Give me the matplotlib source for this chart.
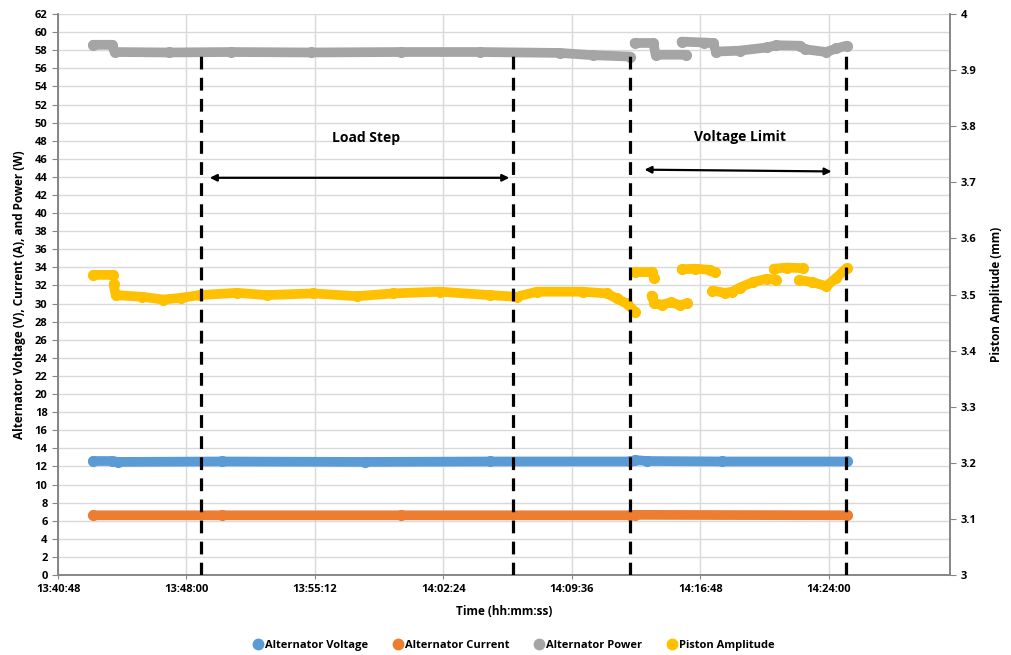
import numpy as np
import matplotlib
matplotlib.use("Agg")
import matplotlib.pyplot as plt
from matplotlib.lines import Line2D
from matplotlib.ticker import FuncFormatter, MultipleLocator

plt.rcParams['font.family'] = ['Open Sans', 'DejaVu Sans']
plt.rcParams['font.weight'] = 'bold'
plt.rcParams['axes.labelweight'] = 'bold'

# values; None breaks a series (gap between marker runs)
voltage_time = ["13:42:46", "13:43:50", "13:44:10", "13:50:00", "13:58:00", "14:05:00",
                "14:12:50", "14:13:10", "14:13:50", "14:18:00", "14:25:00"]
voltage_v = [12.6, 12.6, 12.5, 12.55, 12.5, 12.55, 12.55, 12.7, 12.6, 12.55, 12.55]

current_time = ["13:42:46", "13:50:00", "14:00:00", "14:12:50", "14:13:10", "14:25:00"]
current_a = [6.6, 6.6, 6.6, 6.6, 6.65, 6.6]

power_time = ["13:42:46", "13:43:50", "13:43:58", "13:47:00", "13:50:30", "13:55:00",
              "14:00:00", "14:04:26", "14:08:55", "14:10:46", "14:12:50", None,
              "14:13:07", "14:14:10", "14:14:18", "14:16:00", None,
              "14:15:45", "14:17:00", "14:17:30", "14:17:42", "14:19:00", "14:20:31",
              "14:21:04", "14:22:22", "14:22:40", "14:23:52", "14:24:26", "14:25:00"]
power_w = [58.6, 58.6, 57.8, 57.75, 57.8, 57.75,
           57.8, 57.8, 57.7, 57.45, 57.3, None,
           58.8, 58.8, 57.5, 57.5, None,
           58.95, 58.85, 58.8, 57.85, 57.95, 58.3,
           58.55, 58.5, 58.1, 57.8, 58.2, 58.5]

piston_time = ["13:42:46", "13:43:52", None,
               "13:43:55", "13:44:02", "13:45:30", "13:46:41", "13:47:40", "13:48:45",
               "13:50:50", "13:52:30", "13:55:05", "13:57:33", "13:59:34", "14:02:12",
               "14:05:00", "14:06:30", "14:07:38", "14:10:12", "14:11:33", "14:12:07",
               "14:12:40", "14:13:10", None,
               "14:13:10", "14:14:06", "14:14:12", None,
               "14:14:04", "14:14:14", "14:14:40", "14:15:10", "14:15:40", "14:16:02", None,
               "14:15:45", "14:16:30", "14:17:20", "14:17:36", None,
               "14:17:29", "14:18:10", "14:18:36", "14:19:00", "14:19:44", "14:20:31",
               "14:21:04", None,
               "14:20:55", "14:21:40", "14:22:32", None,
               "14:22:20", "14:23:05", "14:23:52", "14:24:26", "14:25:00"]
piston_mm = [3.535, 3.535, None,
             3.518, 3.499, 3.496, 3.491, 3.494, 3.499,
             3.503, 3.499, 3.502, 3.497, 3.502, 3.505,
             3.499, 3.496, 3.505, 3.505, 3.502, 3.493,
             3.484, 3.469, None,
             3.540, 3.540, 3.529, None,
             3.498, 3.484, 3.482, 3.486, 3.481, 3.484, None,
             3.545, 3.546, 3.544, 3.540, None,
             3.507, 3.503, 3.505, 3.512, 3.522, 3.528,
             3.526, None,
             3.546, 3.548, 3.547, None,
             3.526, 3.522, 3.515, 3.530, 3.547]

# dashed markers between test phases (time, top in left-axis units)
phase_time = ["13:48:49", "14:06:19", "14:12:51", "14:24:59"]
phase_top = [58.0, 58.0, 57.8, 58.2]

x_start, x_end, x_step = "13:40:48", "14:30:48", 432


def to_sec(s):
    if s is None:
        return np.nan
    h, m, sec = map(int, s.split(':'))
    return h * 3600 + m * 60 + sec


def hms(v, pos=None):
    v = int(round(v))
    return f"{v // 3600}:{v % 3600 // 60:02d}:{v % 60:02d}"


def series(times, vals):
    x = np.array([to_sec(t) for t in times], dtype=float)
    y = np.array([np.nan if v is None else v for v in vals], dtype=float)
    return x, y


c_volt, c_curr, c_pow, c_pist = '#5b9bd5', '#ed7d31', '#a5a5a5', '#ffc000'
grid_c, spine_c = '#d9d9d9', '#868686'

fig = plt.figure(figsize=(10.11, 6.55), dpi=100)
ax = fig.add_axes([0.0574, 0.1221, 0.8823, 0.8565])
ax2 = ax.twinx()

style = dict(lw=7, marker='o', ms=7, solid_capstyle='round', solid_joinstyle='round')
ax.plot(*series(voltage_time, voltage_v), color=c_volt, **style)
ax.plot(*series(current_time, current_a), color=c_curr, **style)
ax.plot(*series(power_time, power_w), color=c_pow, **style)
ax2.plot(*series(piston_time, piston_mm), color=c_pist, **style)

# phase lines and annotations drawn on top, in left-axis coordinates
for t, top in zip(phase_time, phase_top):
    ax2.plot([to_sec(t)] * 2, [0, top], color='black', lw=2.3,
             linestyle=(0, (4, 2.6)), transform=ax.transData, zorder=5)

arrow = dict(arrowstyle='<|-|>', color='black', lw=1.6, mutation_scale=10)
ax2.annotate('', xy=(to_sec("13:49:09"), 43.9), xytext=(to_sec("14:06:15"), 43.9),
             xycoords=ax.transData, textcoords=ax.transData, arrowprops=arrow)
ax2.annotate('', xy=(to_sec("14:13:31"), 44.8), xytext=(to_sec("14:24:19"), 44.6),
             xycoords=ax.transData, textcoords=ax.transData, arrowprops=arrow)
ax2.text(to_sec("13:58:03"), 48.3, 'Load Step', transform=ax.transData,
         ha='center', va='center', fontsize=10, fontweight='bold')
ax2.text(to_sec("14:19:00"), 48.4, 'Voltage Limit', transform=ax.transData,
         ha='center', va='center', fontsize=10, fontweight='bold')

ax.set_xlim(to_sec(x_start), to_sec(x_end))
ax.set_xticks(np.arange(to_sec(x_start), to_sec(x_end), x_step))
ax.xaxis.set_major_formatter(FuncFormatter(hms))
ax.set_ylim(0, 62)
ax.yaxis.set_major_locator(MultipleLocator(2))
ax2.set_ylim(3, 4)
ax2.yaxis.set_major_locator(MultipleLocator(0.1))
ax2.yaxis.set_major_formatter(FuncFormatter(lambda v, p: f"{v:.1f}".rstrip('0').rstrip('.')))

ax.grid(True, color=grid_c, lw=1)
ax.set_axisbelow(True)
for a in (ax, ax2):
    a.spines['top'].set_visible(False)
    for s in ('left', 'right', 'bottom'):
        a.spines[s].set_color(spine_c)
        a.spines[s].set_linewidth(1.2)
ax.tick_params(axis='both', labelsize=8, color=spine_c, length=4)
ax.tick_params(axis='x', length=3)
ax2.tick_params(axis='y', labelsize=8, color=spine_c, length=4)
for lab in ax.get_xticklabels() + ax.get_yticklabels() + ax2.get_yticklabels():
    lab.set_fontweight('bold')

ax.set_xlabel('Time (hh:mm:ss)', fontsize=8.5, labelpad=7)
ax.set_ylabel('Alternator Voltage (V), Current (A), and Power (W)', fontsize=8.5, labelpad=6)
ax2.set_ylabel('Piston Amplitude (mm)', fontsize=8.5, labelpad=10)

handles = [Line2D([], [], color=c, marker='o', ls='none', ms=7.5)
           for c in (c_volt, c_curr, c_pow, c_pist)]
labels = ['Alternator Voltage', 'Alternator Current', 'Alternator Power', 'Piston Amplitude']
fig.legend(handles, labels, loc='center', bbox_to_anchor=(0.508, 0.015), ncol=4,
           frameon=False, prop={'size': 8, 'weight': 'bold'}, handletextpad=0.1,
           columnspacing=2.2, handlelength=1.0)

fig.savefig('out.png', dpi=100)
